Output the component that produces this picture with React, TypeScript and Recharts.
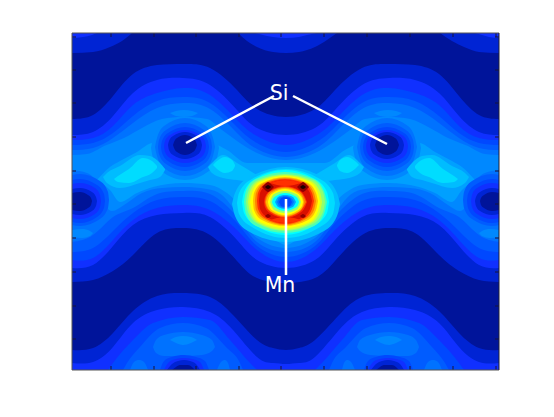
import { Area, ComposedChart, ReferenceDot, ReferenceLine, XAxis, YAxis } from "recharts";

// contour levels, low to high (jet)
const lv = ["#00149a", "#0024d4", "#1030ff", "#0048ff", "#005cff", "#0072ff", "#0088ff", "#00a0ff", "#00bcff", "#00dcff", "#00ffff", "#50ffb0", "#90ff70", "#d0ff30", "#ffff00", "#ffc000", "#ff8000", "#ff3000", "#d81000", "#900000", "#200000"];

const xTicks = [39, 82, 124, 167, 209, 252, 295, 338, 381, 424];
const yTicks = [4, 37, 70, 104, 138, 171, 205, 239, 273, 306];

// each contour: [x, upper edge, lower edge]
const c1Top1 = [[0,0,20],[21,0,19],[38,0,14],[50,0,8],[60,0,0]];
const c1Top2 = [[166,0,0],[175,0,8],[185,0,14],[201,0,19],[214,0,20],[227,0,19],[243,0,14],[255,0,7],[265,0,0]];
const c1Top3 = [[368,0,0],[380,0,8],[392,0,14],[407,0,19],[427,0,20]];
const c1Wave = [[0,86,249],[21,82,247],[41,63,238],[61,41,222],[85,32,200],[111,31,195],[138,35,202],[165,57,228],[185,76,245],[214,84,250],[243,76,245],[263,57,228],[290,35,202],[317,31,195],[343,32,200],[367,41,222],[387,63,238],[407,82,247],[427,86,249]];
const c1Low = [[0,317,337],[21,315,337],[41,300,337],[61,278,337],[85,263,337],[111,260,337],[138,264,337],[161,282,337],[185,307,337],[201,315,337],[214,317,337],[227,315,337],[243,307,337],[267,282,337],[290,264,337],[317,260,337],[343,263,337],[367,278,337],[387,300,337],[407,315,337],[427,317,337]];

const c2Top1 = [[0,0,5],[11,0,4],[20,0,2],[25,0,0]];
const c2Top2 = [[183,0,0],[195,0,3],[201,0,4],[214,0,5],[227,0,4],[235,0,2],[245,0,0]];
const c2Top3 = [[403,0,0],[410,0,2],[417,0,4],[427,0,5]];
const c2Wave = [[0,102,235],[21,99,232],[41,83,213],[61,60,192],[85,47,182],[111,45,180],[138,52,184],[165,77,207],[185,95,227],[214,102,235],[243,95,227],[263,77,207],[290,52,184],[317,45,180],[343,47,182],[367,60,192],[387,83,213],[407,99,232],[427,102,235]];
const c2Low = [[0,330,337],[21,329,337],[41,314,337],[61,290,337],[85,277,337],[111,274,337],[138,279,337],[161,297,337],[185,324,337],[201,330,337],[214,331,337],[227,330,337],[243,324,337],[267,297,337],[290,279,337],[317,274,337],[343,277,337],[367,290,337],[387,314,337],[407,329,337],[427,330,337]];

const c3Wave = [[0,107,227],[21,105,225],[41,93,207],[61,72,187],[85,60,175],[111,55,172],[138,62,177],[165,87,197],[185,103,217],[214,112,229],[243,103,217],[263,87,197],[290,62,177],[317,55,172],[343,60,175],[367,72,187],[387,93,207],[407,105,225],[427,107,227]];
const c3Low1 = [[36,337,337],[41,330,337],[61,307,337],[81,290,337],[111,284,337],[138,287,337],[158,307,337],[178,330,337],[185,337,337]];
const c3Low2 = [[243,337,337],[250,330,337],[270,307,337],[290,287,337],[317,284,337],[347,290,337],[367,307,337],[387,330,337],[392,337,337]];

const c4Wave = [[0,112,219],[21,110,215],[41,100,198],[61,83,180],[85,68,167],[111,64,164],[138,70,168],[165,94,190],[185,110,213],[214,119,224],[243,110,213],[263,94,190],[290,70,168],[317,64,164],[343,68,167],[367,83,180],[387,100,198],[407,110,215],[427,112,219]];
const c4Low1 = [[51,337,337],[55,330,337],[68,314,337],[88,295,337],[111,290,337],[134,295,337],[154,314,337],[168,330,337],[171,337,337]];
const c4Low2 = [[257,337,337],[260,330,337],[274,314,337],[294,295,337],[317,290,337],[340,295,337],[360,314,337],[373,330,337],[377,337,337]];

const c5Wave = [[0,117,209],[21,115,202],[41,105,184],[61,90,175],[85,75,161],[111,70,158],[138,76,161],[165,100,184],[185,116,209],[214,124,219],[243,116,209],[263,100,184],[290,76,161],[317,70,158],[343,75,161],[367,90,175],[387,105,184],[407,115,202],[427,117,209]];
const c5Lobe1 = [[81,314,314],[84,307,320],[92,302,323],[111,299,323],[130,302,322],[140,307,318],[143,314,314]];
const c5Lobe2 = [[285,314,314],[288,307,318],[298,302,322],[317,299,323],[336,302,323],[344,307,320],[347,314,314]];
const c5Side1 = [[58,337,337],[62,329,337],[67,327,337],[72,329,337],[76,337,337]];
const c5Side2 = [[145,337,337],[149,329,337],[153,327,337],[156,330,337],[158,337,337]];
const c5Side3 = [[270,337,337],[272,330,337],[275,327,337],[279,329,337],[283,337,337]];
const c5Side4 = [[352,337,337],[356,329,337],[361,327,337],[366,329,337],[370,337,337]];

const c6Main = [[0,122,137],[15,121,140],[25,117,150],[32,113,170],[40,110,178],[52,105,172],[70,95,160],[90,86,155],[111,84,154],[135,86,156],[150,97,162],[165,108,180],[185,120,205],[214,127,215],[243,120,205],[263,108,180],[278,97,162],[293,86,156],[317,84,154],[338,86,155],[358,95,160],[376,105,172],[388,110,178],[396,113,170],[403,117,150],[413,121,140],[427,122,137]];
const c6Lobe1 = [[98,307,307],[104,304,310],[111,303,312],[119,304,310],[125,307,307]];
const c6Lobe2 = [[303,307,307],[309,304,310],[317,303,312],[324,304,310],[330,307,307]];
const c7Main = [[25,147,147],[38,134,157],[48,128,169],[65,119,160],[81,110,154],[111,110,150],[138,110,152],[155,117,160],[175,130,180],[201,130,205],[214,130,212],[227,130,205],[253,130,180],[273,117,160],[290,110,152],[317,110,150],[347,110,154],[363,119,160],[380,128,169],[390,134,157],[403,147,147]];

// Si wells, stepping down to the dark centre
const w6a = [[79,115,115],[81,106,125],[89,93,138],[113,84,147],[137,93,138],[145,106,125],[147,115,115]];
const w5a = [[83,114,114],[85,105,123],[92,93,135],[113,85,143],[134,93,135],[141,105,123],[143,114,114]];
const w4a = [[86,114,114],[87,107,121],[94,97,131],[113,90,138],[132,97,131],[139,107,121],[140,114,114]];
const w3a = [[89,114,114],[90,108,120],[96,100,128],[113,94,134],[130,100,128],[136,108,120],[137,114,114]];
const w2a = [[92,113,113],[93,108,119],[98,102,125],[113,97,130],[128,102,125],[133,108,119],[134,113,113]];
const w1a = [[96,112,112],[97,108,117],[101,103,122],[113,99,126],[125,103,122],[129,108,117],[130,112,112]];
const w0a = [[101,112,112],[102,109,115],[105,105,119],[113,102,122],[121,105,119],[124,109,115],[125,112,112]];
const w6b = [[281,115,115],[283,106,125],[291,93,138],[315,84,147],[339,93,138],[347,106,125],[349,115,115]];
const w5b = [[285,114,114],[287,105,123],[294,93,135],[315,85,143],[336,93,135],[343,105,123],[345,114,114]];
const w4b = [[288,114,114],[289,107,121],[296,97,131],[315,90,138],[334,97,131],[341,107,121],[342,114,114]];
const w3b = [[291,114,114],[292,108,120],[298,100,128],[315,94,134],[332,100,128],[338,108,120],[339,114,114]];
const w2b = [[294,113,113],[295,108,119],[300,102,125],[315,97,130],[330,102,125],[335,108,119],[336,113,113]];
const w1b = [[298,112,112],[299,108,117],[303,103,122],[315,99,126],[327,103,122],[331,108,117],[332,112,112]];
const w0b = [[303,112,112],[304,109,115],[307,105,119],[315,102,122],[323,105,119],[326,109,115],[327,112,112]];
const c6TopA = [[98,80,80],[104,78,83],[112,77,84],[120,78,83],[126,80,80]];
const c6TopB = [[302,80,80],[308,78,83],[316,77,84],[324,78,83],[330,80,80]];

// wells cut by the frame at both sides
const e4a = [[0,142,192],[8,141,193],[28,148,186],[36,159,175],[37,167,167]];
const e3a = [[0,147,189],[8,146,190],[25,152,184],[32,161,175],[33,168,168]];
const e2a = [[0,151,185],[8,150,186],[23,155,181],[28,162,174],[29,168,168]];
const e1a = [[0,156,181],[8,155,182],[20,159,178],[24,164,173],[25,168,168]];
const e0a = [[0,160,177],[8,159,178],[16,162,175],[19,165,172],[20,168,168]];
const e4b = [[391,167,167],[392,159,175],[400,148,186],[420,141,193],[427,142,192]];
const e3b = [[395,168,168],[396,161,175],[403,152,184],[420,146,190],[427,147,189]];
const e2b = [[399,168,168],[400,162,174],[405,155,181],[420,150,186],[427,151,185]];
const e1b = [[403,168,168],[404,164,173],[408,159,178],[420,155,182],[427,156,181]];
const e0b = [[408,168,168],[409,165,172],[412,162,175],[420,159,178],[427,160,177]];
const e6a = [[0,197,204],[10,196,205],[18,198,203],[21,200,200]];
const e6b = [[407,200,200],[410,198,203],[418,196,205],[427,197,204]];

// wells on the bottom edge
const b3a = [[88,337,337],[92,328,337],[100,324,337],[112,322,337],[124,324,337],[133,328,337],[137,337,337]];
const b2a = [[92,337,337],[97,329,337],[104,326,337],[112,325,337],[120,326,337],[128,329,337],[132,337,337]];
const b1a = [[95,337,337],[100,331,337],[106,328,337],[112,327,337],[118,328,337],[124,331,337],[128,337,337]];
const b0a = [[100,337,337],[104,334,337],[108,332,337],[112,332,337],[116,332,337],[120,334,337],[123,337,337]];
const b3b = [[292,337,337],[296,328,337],[304,324,337],[316,322,337],[328,324,337],[337,328,337],[341,337,337]];
const b2b = [[296,337,337],[301,329,337],[308,326,337],[316,325,337],[324,326,337],[332,329,337],[336,337,337]];
const b1b = [[299,337,337],[304,331,337],[310,328,337],[316,327,337],[322,328,337],[328,331,337],[332,337,337]];
const b0b = [[304,337,337],[308,334,337],[312,332,337],[316,332,337],[320,332,337],[324,334,337],[327,337,337]];

// bright patches either side of the wells
const c8a = [[31,144,144],[35,140,150],[48,133,155],[68,122,150],[78,123,147],[88,130,144],[93,136,137]];
const c9a = [[42,146,146],[46,143,149],[57,136,150],[71,125,144],[80,128,140],[85,133,135]];
const c8b = [[335,136,137],[340,130,144],[350,123,147],[360,122,150],[380,133,155],[393,140,150],[397,144,144]];
const c9b = [[343,133,135],[348,128,140],[357,125,144],[371,136,150],[382,143,149],[386,146,146]];
const c8c = [[136,134,134],[140,130,140],[151,122,145],[165,130,147],[175,136,148],[185,142,146]];
const c9c = [[141,132,132],[145,128,136],[153,124,140],[160,127,138],[163,132,133]];
const c8d = [[243,142,146],[253,136,148],[263,130,147],[277,122,145],[288,130,140],[292,134,134]];
const c9d = [[265,132,133],[268,127,138],[275,124,140],[283,128,136],[287,132,132]];

// rings round Mn, outside in
const r8 = [[160,171,171],[163,160,183],[176,145,198],[214,134,209],[252,145,198],[265,160,183],[268,171,171]];
const r9 = [[165,170,170],[167,160,181],[180,146,194],[214,136,205],[248,146,194],[261,160,181],[263,170,170]];
const r10 = [[170,169,169],[172,159,180],[183,146,192],[213,137,202],[243,146,192],[255,159,180],[257,169,169]];
const r11 = [[172,169,169],[174,158,181],[184,146,193],[213,139,200],[242,146,193],[252,158,181],[255,169,169]];
const r12 = [[174,169,169],[176,159,179],[186,147,191],[213,141,198],[241,147,191],[251,159,179],[253,169,169]];
const r13 = [[176,169,169],[178,159,179],[187,148,190],[213,142,197],[239,148,190],[248,159,179],[250,169,169]];
const r14 = [[178,169,169],[180,160,178],[188,149,189],[213,143,195],[238,149,189],[246,160,178],[248,169,169]];
const r15 = [[181,168,168],[182,160,177],[190,150,187],[213,144,193],[236,150,187],[244,160,177],[246,168,168]];
const r16 = [[183,168,168],[184,160,177],[192,150,186],[213,145,192],[234,150,186],[242,160,177],[244,168,168]];
const r17 = [[185,168,168],[186,160,176],[193,151,185],[213,146,191],[233,151,185],[240,160,176],[242,168,168]];
const r18 = [[187,168,168],[188,160,176],[195,152,184],[213,147,190],[231,152,184],[238,160,176],[240,168,168]];
const p17a = [[198,150,150],[205,148,152],[213,147,153],[222,148,152],[229,150,150]];
const p17b = [[198,187,187],[205,185,189],[213,184,190],[222,185,189],[229,187,187]];
const h17 = [[192,169,169],[193,164,174],[198,158,180],[213,153,185],[228,158,180],[233,164,174],[235,169,169]];
const h16 = [[193,169,169],[194,164,173],[199,158,179],[213,154,184],[227,158,179],[232,164,173],[234,169,169]];
const h15 = [[194,169,169],[195,165,173],[200,159,179],[213,155,183],[226,159,179],[231,165,173],[232,169,169]];
const h14 = [[196,169,169],[197,165,173],[201,160,178],[213,156,182],[225,160,178],[230,165,173],[231,169,169]];
const h12 = [[198,169,169],[199,166,172],[202,161,177],[213,158,180],[224,161,177],[228,166,172],[229,169,169]];
const h10 = [[200,169,169],[201,166,172],[204,163,175],[213,160,178],[223,163,175],[226,166,172],[227,169,169]];
const h7 = [[203,169,169],[204,167,171],[206,164,174],[213,162,176],[221,164,174],[223,167,171],[224,169,169]];
const h5 = [[205,169,169],[206,167,171],[207,165,173],[213,163,175],[219,165,173],[221,167,171],[222,169,169]];
const h3 = [[207,169,169],[208,167,171],[209,165,173],[213,164,174],[218,165,173],[219,167,171],[220,169,169]];
const s19a = [[190,154,154],[193,151,157],[196,149,159],[199,151,157],[202,154,154]];
const s20a = [[193,154,154],[196,152,156],[199,154,154]];
const s19b = [[225,154,154],[228,151,157],[231,149,159],[234,151,157],[237,154,154]];
const s20b = [[228,154,154],[231,152,156],[234,154,154]];
const s19c = [[193,183,183],[196,181,185],[199,183,183]];
const s19d = [[228,183,183],[231,181,185],[234,183,183]];

const bands: [number, number[][]][] = [
  [1, c1Top1], [1, c1Top2], [1, c1Top3], [1, c1Wave], [1, c1Low],
  [2, c2Top1], [2, c2Top2], [2, c2Top3], [2, c2Wave], [2, c2Low],
  [3, c3Wave], [3, c3Low1], [3, c3Low2],
  [4, c4Wave], [4, c4Low1], [4, c4Low2],
  [5, c5Wave], [5, c5Lobe1], [5, c5Lobe2], [5, c5Side1], [5, c5Side2], [5, c5Side3], [5, c5Side4],
  [6, c6Main], [6, c6Lobe1], [6, c6Lobe2],
  [7, c7Main],
  [6, w6a], [5, w5a], [4, w4a], [3, w3a], [2, w2a], [1, w1a], [0, w0a],
  [6, w6b], [5, w5b], [4, w4b], [3, w3b], [2, w2b], [1, w1b], [0, w0b],
  [6, c6TopA], [6, c6TopB],
  [4, e4a], [3, e3a], [2, e2a], [1, e1a], [0, e0a],
  [4, e4b], [3, e3b], [2, e2b], [1, e1b], [0, e0b],
  [6, e6a], [6, e6b],
  [3, b3a], [2, b2a], [1, b1a], [0, b0a],
  [3, b3b], [2, b2b], [1, b1b], [0, b0b],
  [8, c8a], [9, c9a], [8, c8b], [9, c9b], [8, c8c], [8, c8d], [9, c9c], [9, c9d],
  [8, r8], [9, r9], [10, r10], [11, r11], [12, r12], [13, r13], [14, r14], [15, r15], [16, r16], [17, r17], [18, r18],
  [17, p17a], [17, p17b],
  [17, h17], [16, h16], [15, h15], [14, h14], [12, h12], [10, h10], [7, h7], [5, h5], [3, h3],
  [19, s19a], [20, s20a], [19, s19b], [20, s20b], [19, s19c], [19, s19d],
];

// long waves take a smoother curve than the small closed contours
const smoothBands = [c1Wave, c1Low, c2Wave, c2Low, c3Wave, c4Wave, c5Wave];

const toRows = (pts: number[][]) => pts.map(([x, a, b]) => ({ x, band: [a, b] }));

const tickColor = "#14143c";
const labelFont = { fill: "#fff", fontSize: 20.5, fontFamily: "DejaVu Sans" };

export default function App() {
  return (
    <div style={{ position: "absolute", left: 0, top: 0, width: 554, height: 417, background: "#fff" }}>
      <ComposedChart width={554} height={417} margin={{ left: 72, top: 33, right: 55, bottom: 47 }}>
        <XAxis type="number" dataKey="x" domain={[0, 427]} height={0} tick={false} tickLine={false} axisLine={false} allowDataOverflow />
        <YAxis type="number" reversed domain={[0, 337]} width={0} tick={false} tickLine={false} axisLine={false} allowDataOverflow />
        <Area data={[{ x: 0, band: [0, 337] }, { x: 427, band: [0, 337] }]} dataKey="band" type="linear" fill={lv[0]} fillOpacity={1} stroke="none" dot={false} activeDot={false} isAnimationActive={false} />
        {bands.map(([level, pts], i) => (
          <Area key={i} data={toRows(pts)} dataKey="band" type={smoothBands.includes(pts) ? "natural" : "monotone"} fill={lv[level]} fillOpacity={1} stroke="none" dot={false} activeDot={false} isAnimationActive={false} />
        ))}
        {xTicks.map((x) => (
          <ReferenceLine key={`b${x}`} segment={[{ x, y: 337 }, { x, y: 333 }]} stroke={tickColor} />
        ))}
        {xTicks.map((x) => (
          <ReferenceLine key={`t${x}`} segment={[{ x, y: 0 }, { x, y: 4 }]} stroke={tickColor} />
        ))}
        {yTicks.map((y) => (
          <ReferenceLine key={`l${y}`} segment={[{ x: 0, y }, { x: 4, y }]} stroke={tickColor} />
        ))}
        {yTicks.map((y) => (
          <ReferenceLine key={`r${y}`} segment={[{ x: 427, y }, { x: 423, y }]} stroke={tickColor} />
        ))}
        <ReferenceLine segment={[{ x: 0, y: 0 }, { x: 427, y: 0 }]} stroke="#555" />
        <ReferenceLine segment={[{ x: 0, y: 337 }, { x: 427, y: 337 }]} stroke="#555" />
        <ReferenceLine segment={[{ x: 0, y: 0 }, { x: 0, y: 337 }]} stroke="#555" />
        <ReferenceLine segment={[{ x: 427, y: 0 }, { x: 427, y: 337 }]} stroke="#223" />
        <ReferenceLine segment={[{ x: 114, y: 110 }, { x: 202, y: 63 }]} stroke="#fff" strokeWidth={2.5} />
        <ReferenceLine segment={[{ x: 221, y: 63 }, { x: 315, y: 111 }]} stroke="#fff" strokeWidth={2.5} />
        <ReferenceLine segment={[{ x: 214, y: 166 }, { x: 214, y: 242 }]} stroke="#fff" strokeWidth={2.5} />
        <ReferenceDot x={207} y={60} r={0} stroke="none" label={{ value: "Si", position: "center", ...labelFont }} />
        <ReferenceDot x={208} y={252} r={0} stroke="none" label={{ value: "Mn", position: "center", ...labelFont }} />
      </ComposedChart>
    </div>
  );
}
